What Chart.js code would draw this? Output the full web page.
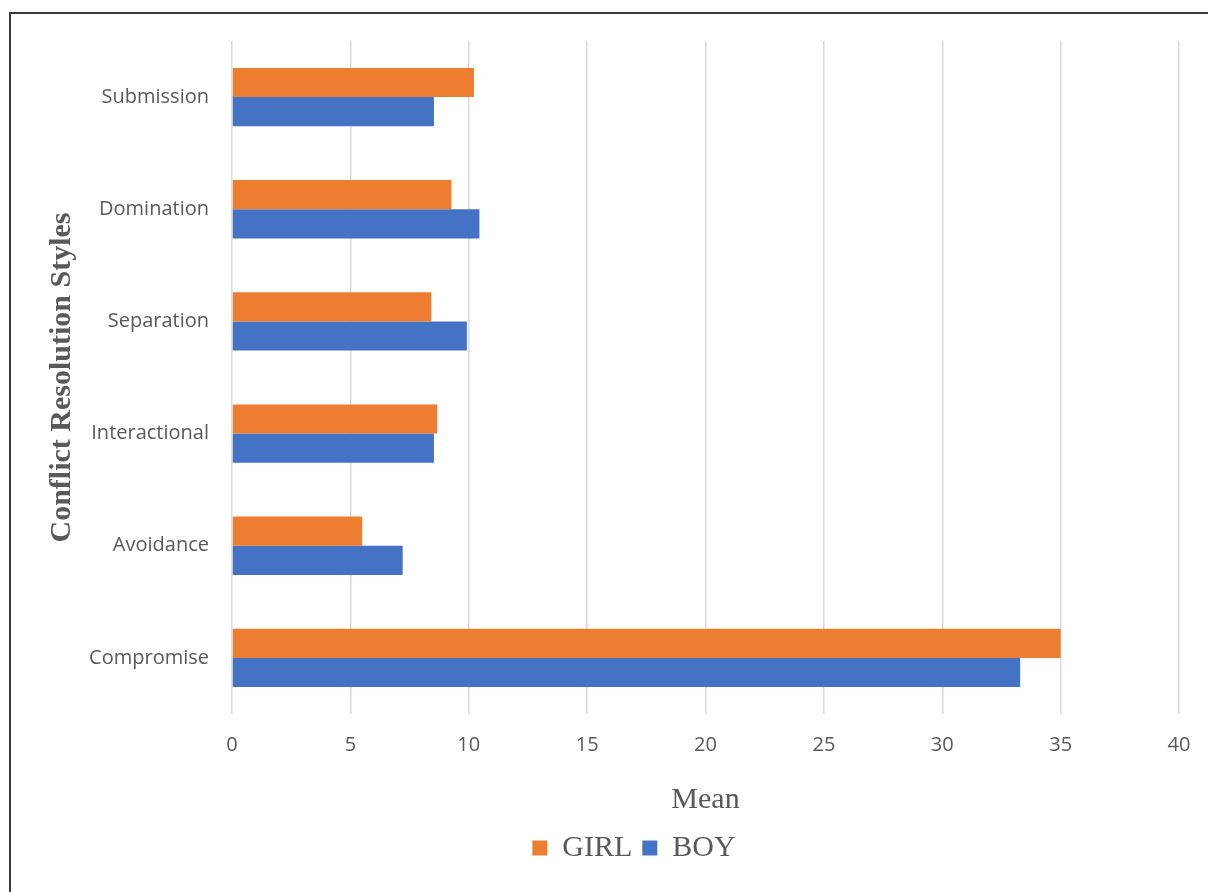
<!DOCTYPE html>
<html>
<head>
<meta charset="utf-8">
<title>Conflict Resolution Styles</title>
<script src="https://cdn.jsdelivr.net/npm/chart.js@4.4.1/dist/chart.umd.min.js"></script>
<style>
  html, body { margin: 0; padding: 0; background: #fff; overflow: hidden; }
  .frame {
    position: absolute;
    left: 9px;
    top: 12px;
    width: 1246px;
    height: 878px;
    border: 2px solid #3c3c3c;
  }
  .frame canvas { display: block; }
</style>
</head>
<body>
<div class="frame">
  <canvas id="styles-chart" width="1246" height="878"></canvas>
</div>
<script>
// values
const categories = ['Submission', 'Domination', 'Separation', 'Interactional', 'Avoidance', 'Compromise'];
const girlMeans = [10.22, 9.27, 8.42, 8.67, 5.5, 35.0];
const boyMeans = [8.53, 10.45, 9.92, 8.53, 7.21, 33.29];
const meanMin = 0;
const meanMax = 40;
const meanStep = 5;

const tickColor = '#595959';
const sansFont = "'Open Sans', 'DejaVu Sans', sans-serif";
const serifFont = "'Liberation Serif', 'DejaVu Serif', serif";

document.addEventListener('DOMContentLoaded', function() {
    const ctx = document.getElementById('styles-chart').getContext('2d');

    new Chart(ctx, {
        type: 'bar',
        data: {
            labels: categories,
            datasets: [
                { label: 'GIRL', data: girlMeans, backgroundColor: '#ED7D31' },
                { label: 'BOY', data: boyMeans, backgroundColor: '#4472C4' }
            ]
        },
        options: {
            indexAxis: 'y',
            responsive: false,
            animation: false,
            events: [],
            categoryPercentage: 0.52,
            barPercentage: 1.0,
            layout: { padding: { top: 27, left: 0, right: 0, bottom: 19 } },
            plugins: {
                tooltip: { enabled: false },
                legend: {
                    position: 'bottom',
                    labels: {
                        boxWidth: 15,
                        boxHeight: 15,
                        padding: 10,
                        color: tickColor,
                        font: { family: serifFont, size: 30 }
                    }
                }
            },
            scales: {
                x: {
                    min: meanMin,
                    max: meanMax,
                    ticks: {
                        stepSize: meanStep,
                        padding: 19,
                        color: tickColor,
                        font: { family: sansFont, size: 20 }
                    },
                    grid: { color: '#d9d9d9', lineWidth: 1.5, drawTicks: false },
                    border: { display: false },
                    title: {
                        display: true,
                        text: 'Mean',
                        color: tickColor,
                        font: { family: serifFont, size: 30 },
                        padding: { top: 6, bottom: 5 }
                    }
                },
                y: {
                    ticks: {
                        padding: 23,
                        color: tickColor,
                        font: { family: sansFont, size: 20 }
                    },
                    grid: { display: false, drawTicks: false },
                    border: { display: false },
                    title: {
                        display: true,
                        text: 'Conflict Resolution Styles',
                        color: tickColor,
                        font: { family: serifFont, size: 30, weight: 'bold' },
                        padding: { top: 33, bottom: 0 }
                    },
                    afterFit: function(scale) {
                        // fixed gutter; labels sit in the middle of their bands so no extra room above/below
                        scale.width = 221;
                        scale.paddingTop = 0;
                        scale.paddingBottom = 0;
                    }
                },
                // empty strip on the right, keeps the plot where the original had it
                spacer: {
                    type: 'linear',
                    position: 'right',
                    display: true,
                    grid: { display: false, drawTicks: false },
                    border: { display: false },
                    ticks: { display: false },
                    afterFit: function(scale) {
                        scale.width = 78;
                        scale.paddingTop = 0;
                        scale.paddingBottom = 0;
                    }
                }
            }
        }
    });
});
</script>
</body>
</html>
